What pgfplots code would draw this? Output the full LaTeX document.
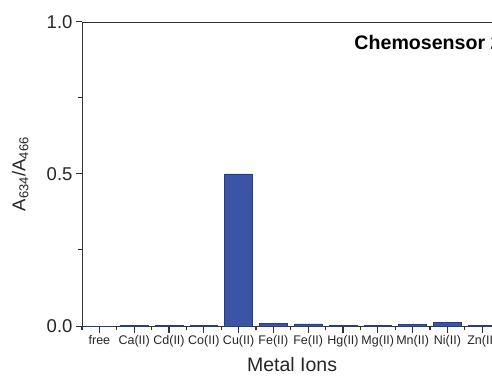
\documentclass[border=0pt]{standalone}
\usepackage{pgfplots}
\pgfplotsset{compat=1.18}
\usepackage{fontspec}
\setmainfont{Liberation Sans}
\definecolor{barblue}{HTML}{3B54A6}
\definecolor{baredge}{HTML}{2A3C7C}
\definecolor{axgray}{HTML}{333333}
\begin{document}
\begin{tikzpicture}
\begin{axis}[
  at={(0pt,0pt)}, anchor=south west,
  scale only axis, width=417.6pt, height=304pt,
  xmin=-0.5, xmax=11.5, ymin=0, ymax=1,
  axis line style={axgray, line width=0.9pt},
  every tick/.style={axgray, line width=1pt},
  xtick style={draw=axgray, line width=1.1pt},
  tick align=outside,
  major tick length=6pt, minor tick length=3.5pt,
  major x tick style={/pgfplots/major tick length=6.5pt},
  minor x tick style={/pgfplots/minor tick length=4pt},
  xtick pos=bottom, ytick pos=left,
  ytick={0,0.5,1}, minor ytick={0.25,0.75},
  yticklabel style={/pgf/number format/fixed, /pgf/number format/precision=1, /pgf/number format/fixed zerofill, font=\fontsize{18.5}{18.5}\selectfont, color=black!85},
  /pgf/number format/assume math mode=true,
  xtick={0,...,11},
  xticklabels={free,Ca(II),Cd(II),Co(II),Cu(II),Fe(II),Fe(II),Hg(II),Mg(II),Mn(II),Ni(II),Zn(II)},
  minor xtick={-0.5,0.5,...,11.5},
  xticklabel style={font=\fontsize{12.5}{12.5}\selectfont, color=black!85},
  xlabel={Metal Ions},
  xlabel style={font=\fontsize{19.5}{19.5}\selectfont, at={(axis description cs:0.503,-0.128)}, anchor=center, color=black!85},
  ylabel={A\textsubscript{634}/A\textsubscript{466}},
  ylabel style={font=\fontsize{18.5}{18.5}\selectfont, at={(axis description cs:-0.148,0.5)}, anchor=center, color=black!85},
]
\addplot[ybar, bar width=0.8, fill=barblue, draw=baredge, line width=0.6pt] coordinates {
(0,0.0) (1,0.001) (2,0.001) (3,0.001) (4,0.5) (5,0.009) (6,0.007) (7,0.001) (8,0.001) (9,0.004) (10,0.013) (11,0.003)
};
\node[anchor=west, inner sep=0pt, font=\bfseries\fontsize{19.6}{19.6}\selectfont] at (rel axis cs:0.652,0.931) {Chemosensor 2};
\end{axis}
\pgfresetboundingbox
\path[use as bounding box] (-82pt,-51pt) rectangle (410pt,326pt);
\end{tikzpicture}
\end{document}
